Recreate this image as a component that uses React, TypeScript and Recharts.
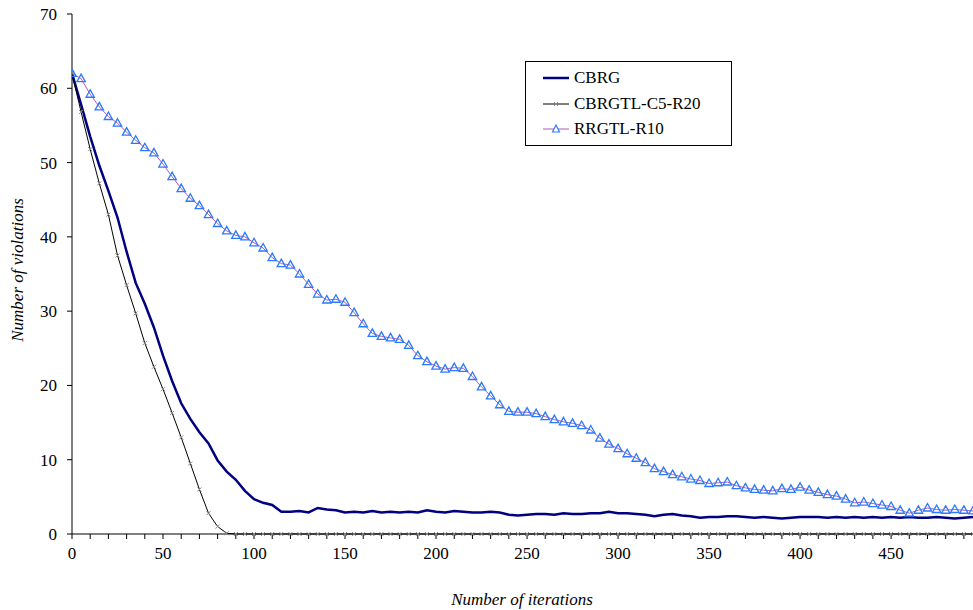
import React from 'react';
import { LineChart, Line, XAxis, YAxis } from 'recharts';

// iteration index (every 5th iteration)
const iterations = [
  0, 5, 10, 15, 20, 25, 30, 35, 40, 45, 50, 55, 60, 65, 70, 75, 80, 85, 90, 95,
  100, 105, 110, 115, 120, 125, 130, 135, 140, 145, 150, 155, 160, 165, 170, 175, 180, 185, 190, 195,
  200, 205, 210, 215, 220, 225, 230, 235, 240, 245, 250, 255, 260, 265, 270, 275, 280, 285, 290, 295,
  300, 305, 310, 315, 320, 325, 330, 335, 340, 345, 350, 355, 360, 365, 370, 375, 380, 385, 390, 395,
  400, 405, 410, 415, 420, 425, 430, 435, 440, 445, 450, 455, 460, 465, 470, 475, 480, 485, 490, 495,
];

const cbrg = [
  62, 57.8, 53.5, 49.6, 46.2, 42.6, 38, 33.8, 31, 27.8, 24, 20.6, 17.6, 15.5, 13.7, 12.2, 9.9, 8.4, 7.3, 5.8,
  4.7, 4.2, 3.9, 3.0, 3.0, 3.1, 2.9, 3.5, 3.3, 3.2, 2.9, 3.0, 2.9, 3.1, 2.9, 3.0, 2.9, 3.0, 2.9, 3.2,
  3.0, 2.9, 3.1, 3.0, 2.9, 2.9, 3.0, 2.9, 2.6, 2.5, 2.6, 2.7, 2.7, 2.6, 2.8, 2.7, 2.7, 2.8, 2.8, 3.0,
  2.8, 2.8, 2.7, 2.6, 2.4, 2.6, 2.7, 2.5, 2.4, 2.2, 2.3, 2.3, 2.4, 2.4, 2.3, 2.2, 2.3, 2.2, 2.1, 2.2,
  2.3, 2.3, 2.3, 2.2, 2.3, 2.2, 2.3, 2.2, 2.3, 2.2, 2.3, 2.2, 2.3, 2.2, 2.2, 2.3, 2.2, 2.1, 2.2, 2.3,
];

const cbrgtl = [
  62, 56.8, 51.8, 47.2, 43, 37.5, 33.5, 29.7, 25.7, 22.5, 19.5, 16.3, 13, 9.5, 6, 2.8, 1, 0.1, 0, 0,
  0, 0, 0, 0, 0, 0, 0, 0, 0, 0, 0, 0, 0, 0, 0, 0, 0, 0, 0, 0,
  0, 0, 0, 0, 0, 0, 0, 0, 0, 0, 0, 0, 0, 0, 0, 0, 0, 0, 0, 0,
  0, 0, 0, 0, 0, 0, 0, 0, 0, 0, 0, 0, 0, 0, 0, 0, 0, 0, 0, 0,
  0, 0, 0, 0, 0, 0, 0, 0, 0, 0, 0, 0, 0, 0, 0, 0, 0, 0, 0, 0,
];

const rrgtl = [
  62, 61.3, 59.2, 57.5, 56.2, 55.3, 54.1, 53, 52, 51.3, 49.8, 48.1, 46.5, 45.2, 44.2, 43, 41.8, 40.8, 40.2, 40,
  39.2, 38.5, 37.2, 36.4, 36.2, 35, 33.6, 32.3, 31.5, 31.6, 31.2, 29.8, 28.3, 27, 26.6, 26.4, 26.2, 25.4, 24, 23.2,
  22.6, 22.2, 22.4, 22.3, 21.2, 19.8, 18.6, 17.4, 16.5, 16.4, 16.4, 16.2, 15.8, 15.4, 15.1, 14.9, 14.6, 14, 12.9, 12.1,
  11.5, 10.8, 10.2, 9.6, 8.8, 8.4, 8, 7.7, 7.4, 7.2, 6.8, 6.9, 7, 6.5, 6.2, 6, 5.9, 5.8, 6.1, 6,
  6.3, 5.9, 5.6, 5.3, 5.1, 4.7, 4.2, 4.3, 4.1, 3.9, 3.7, 3.2, 2.8, 3.2, 3.5, 3.3, 3.2, 3.3, 3.2, 3.1,
];

const xMinorTicks = [
  0, 10, 20, 30, 40, 50, 60, 70, 80, 90, 100, 110, 120, 130, 140, 150, 160, 170, 180, 190,
  200, 210, 220, 230, 240, 250, 260, 270, 280, 290, 300, 310, 320, 330, 340, 350, 360, 370, 380, 390,
  400, 410, 420, 430, 440, 450, 460, 470, 480, 490,
];
const yTicks = [0, 10, 20, 30, 40, 50, 60, 70];

const seriesNames = ['CBRG', 'CBRGTL-C5-R20', 'RRGTL-R10'];

const data = iterations.map((it, i) => ({
  it,
  cbrg: cbrg[i],
  cbrgtl: cbrgtl[i],
  rrgtl: rrgtl[i],
}));

const FONT = 'Liberation Serif';

const CrossDot = (p: any) => {
  const { cx, cy, index } = p;
  if (cx == null || cy == null) return <g key={index} />;
  return (
    <path
      key={index}
      d={`M${cx - 2},${cy - 2}L${cx + 2},${cy + 2}M${cx - 2},${cy + 2}L${cx + 2},${cy - 2}`}
      stroke="#888"
      strokeWidth={1}
    />
  );
};

const TriDot = (p: any) => {
  const { cx, cy, index } = p;
  if (cx == null || cy == null) return <g key={index} />;
  return (
    <path
      key={index}
      d={`M${cx},${cy - 4.5}L${cx + 4.2},${cy + 3}L${cx - 4.2},${cy + 3}Z`}
      stroke="#2a7aff"
      strokeWidth={1.3}
      fill="none"
    />
  );
};

const LegendBox = () => (
  <div
    style={{
      position: 'absolute',
      left: 525,
      top: 61,
      width: 205,
      height: 83,
      border: '1px solid #000',
      background: '#fff',
      fontFamily: FONT,
      fontSize: 17,
      color: '#000',
    }}
  >
    {seriesNames.map((name, i) => (
      <div key={name} style={{ position: 'absolute', left: 17, top: 5 + i * 25.5, height: 22, display: 'flex', alignItems: 'center' }}>
        <svg width={28} height={12} style={{ marginRight: 3 }}>
          {i === 0 && <line x1={0} y1={6} x2={26} y2={6} stroke="#000080" strokeWidth={2.5} />}
          {i === 1 && (
            <g>
              <line x1={0} y1={6} x2={26} y2={6} stroke="#000" strokeWidth={1} />
              <path d="M11,4L15,8M11,8L15,4" stroke="#888" strokeWidth={1} />
            </g>
          )}
          {i === 2 && (
            <g>
              <line x1={0} y1={6} x2={26} y2={6} stroke="#b05bb0" strokeWidth={1} />
              <path d="M13,2L16.5,9L9.5,9Z" stroke="#2f7cff" strokeWidth={1.2} fill="#fff" />
            </g>
          )}
        </svg>
        <span>{name}</span>
      </div>
    ))}
  </div>
);

export default function App() {
  return (
    <div style={{ position: 'absolute', left: 0, top: 0, width: 973, height: 610, background: '#fff', fontFamily: FONT }}>
      <LineChart width={973} height={610} data={data} margin={{ top: 14, right: 0, bottom: 0, left: 0 }} style={{ fontFamily: FONT }}>
        <XAxis
          dataKey="it"
          type="number"
          domain={[0, 495]}
          ticks={xMinorTicks}
          interval={0}
          tickFormatter={(v: number) => (v % 50 === 0 ? String(v) : '')}
          height={76}
          tickSize={5}
          tickMargin={8}
          stroke="#000"
          tickLine={{ stroke: '#000' }}
          tick={{ fill: '#000', fontFamily: FONT, fontSize: 17, style: { fontFamily: FONT } }}
          allowDataOverflow
        />
        <YAxis
          type="number"
          domain={[0, 70]}
          ticks={yTicks}
          interval={0}
          width={72}
          tickSize={5}
          tickMargin={10}
          stroke="#000"
          tickLine={{ stroke: '#000' }}
          tick={{ fill: '#000', fontFamily: FONT, fontSize: 17, style: { fontFamily: FONT } }}
        />
        <Line
          dataKey="cbrg"
          name={seriesNames[0]}
          stroke="#000080"
          strokeWidth={2.5}
          dot={false}
          isAnimationActive={false}
        />
        <Line
          dataKey="cbrgtl"
          name={seriesNames[1]}
          stroke="#000"
          strokeWidth={1}
          dot={CrossDot}
          isAnimationActive={false}
        />
        <Line
          dataKey="rrgtl"
          name={seriesNames[2]}
          stroke="#b05bb0"
          strokeWidth={1}
          dot={TriDot}
          isAnimationActive={false}
        />
      </LineChart>
      <LegendBox />
      <div
        style={{
          position: 'absolute',
          left: 18,
          top: 270,
          transform: 'translate(-50%, -50%) rotate(-90deg)',
          whiteSpace: 'nowrap',
          fontFamily: FONT,
          fontStyle: 'italic',
          fontSize: 17,
        }}
      >
        Number of violations
      </div>
      <div
        style={{
          position: 'absolute',
          left: 522,
          top: 600,
          transform: 'translate(-50%, -50%)',
          whiteSpace: 'nowrap',
          fontFamily: FONT,
          fontStyle: 'italic',
          fontSize: 17,
        }}
      >
        Number of iterations
      </div>
    </div>
  );
}
